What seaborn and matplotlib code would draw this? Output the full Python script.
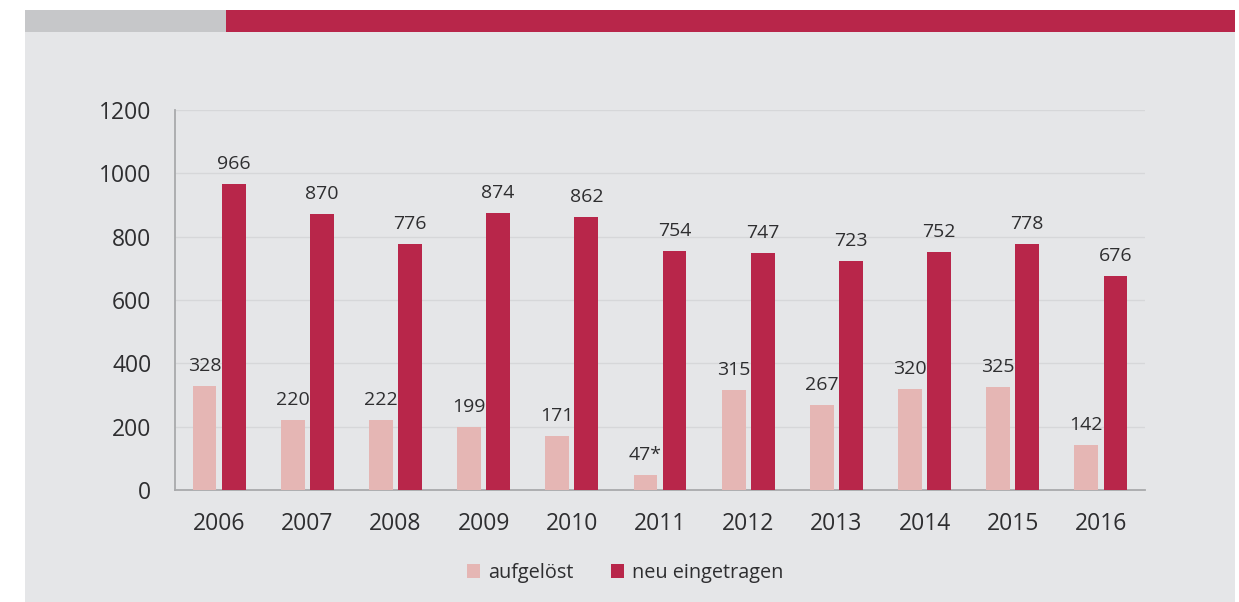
import matplotlib
matplotlib.use("Agg")
import matplotlib.pyplot as plt
from matplotlib.patches import Rectangle, Patch
import seaborn as sb
import pandas as pd

years = ["2006", "2007", "2008", "2009", "2010", "2011", "2012", "2013", "2014", "2015", "2016"]
aufgeloest = [328, 220, 222, 199, 171, 47, 315, 267, 320, 325, 142]
neu_eingetragen = [966, 870, 776, 874, 862, 754, 747, 723, 752, 778, 676]
aufgeloest_labels = ["328", "220", "222", "199", "171", "47*", "315", "267", "320", "325", "142"]
series_names = ["aufgelöst", "neu eingetragen"]
yticks = [0, 200, 400, 600, 800, 1000, 1200]

light = "#e5b6b4"
dark = "#b8264a"
panel = "#e5e6e8"
text_col = "#2e2e30"

df = pd.DataFrame({
    "Jahr": years * 2,
    "Wert": aufgeloest + neu_eingetragen,
    "Serie": [series_names[0]] * len(years) + [series_names[1]] * len(years),
})

sb.set_style("white")
plt.rcParams["font.family"] = ["Open Sans", "DejaVu Sans"]

fig = plt.figure(figsize=(12.39, 6.02), dpi=100, facecolor="white")
# grey panel and top band
fig.patches.append(Rectangle((25 / 1239, 0), 1210 / 1239, 1 - 10 / 602,
                             transform=fig.transFigure, facecolor=panel, edgecolor="none", zorder=-10))
fig.patches.append(Rectangle((25 / 1239, 1 - 32 / 602), 201 / 1239, 22 / 602,
                             transform=fig.transFigure, facecolor="#c6c7c9", edgecolor="none", zorder=-9))
fig.patches.append(Rectangle((226 / 1239, 1 - 32 / 602), 1009 / 1239, 22 / 602,
                             transform=fig.transFigure, facecolor=dark, edgecolor="none", zorder=-9))

ax = fig.add_axes([175 / 1239, 1 - 490 / 602, 970 / 1239, 380 / 602])
ax.set_facecolor("none")

sb.barplot(data=df, x="Jahr", y="Wert", hue="Serie", palette=[light, dark], saturation=1,
           width=0.66, gap=0.18, ax=ax, legend=False, edgecolor="none", zorder=3)

ax.set_xlim(-0.5, len(years) - 0.5)
ax.set_ylim(0, 1200)
ax.set_yticks(yticks)
ax.set_xlabel("")
ax.set_ylabel("")
ax.yaxis.grid(True, color="#d6d7d9", linewidth=1, zorder=0)
ax.set_axisbelow(True)

for s in ["top", "right"]:
    ax.spines[s].set_visible(False)
for s in ["left", "bottom"]:
    ax.spines[s].set_color("#a9aaac")
    ax.spines[s].set_linewidth(1.3)

ax.tick_params(axis="y", length=7, width=1.3, color="#a9aaac", pad=10, labelsize=16.5, labelcolor=text_col)
ax.tick_params(axis="x", which="major", length=0, pad=16, labelsize=16.5, labelcolor=text_col)
ax.set_xticks([i - 0.5 for i in range(len(years) + 1)], minor=True)
ax.tick_params(axis="x", which="minor", length=5, width=1.3, color="#a9aaac")

ax.bar_label(ax.containers[0], labels=aufgeloest_labels, padding=8, fontsize=14, color=text_col)
ax.bar_label(ax.containers[1], labels=[str(v) for v in neu_eingetragen], padding=8, fontsize=14, color=text_col)

handles = [Patch(facecolor=light, edgecolor="none"), Patch(facecolor=dark, edgecolor="none")]
leg = fig.legend(handles, series_names, loc="center", bbox_to_anchor=(625 / 1239, 1 - 573 / 602),
                 ncol=2, frameon=False, fontsize=14.3, handlelength=0.65, handleheight=0.65,
                 handletextpad=0.4, columnspacing=1.9)
for t in leg.get_texts():
    t.set_color(text_col)

fig.savefig("out.png", dpi=100, facecolor="white")
